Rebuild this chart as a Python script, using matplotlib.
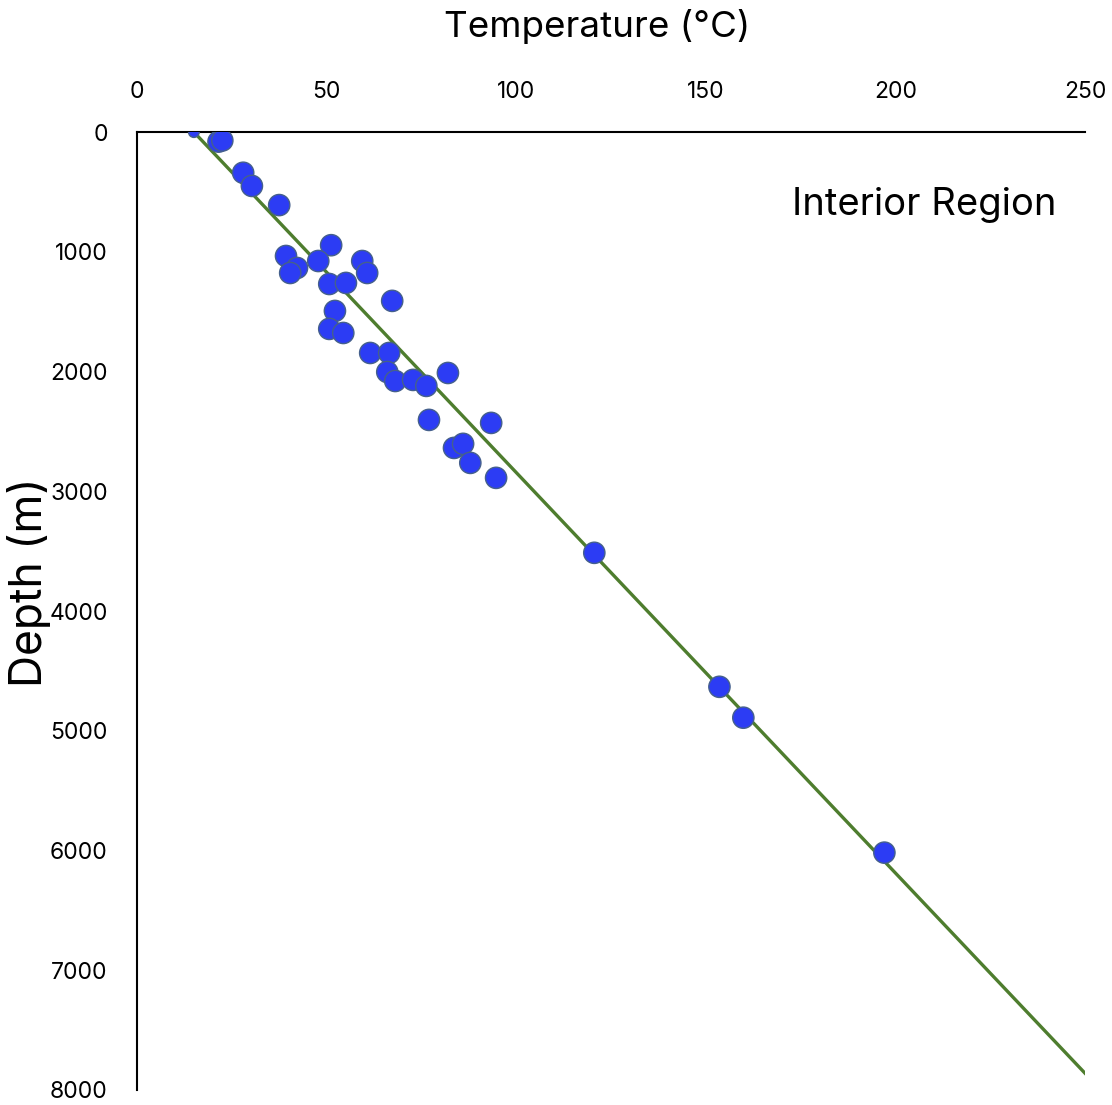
import numpy as np
import matplotlib.pyplot as plt

# well temperatures (deg C) vs depth (m)
temp = [15, 21.5, 22.5, 28, 30.3, 37.5, 51.2, 39.3, 42.2, 40.4, 47.8, 59.4, 60.7,
        50.7, 55.1, 67.3, 52.2, 50.7, 54.4, 61.5, 66.5, 66, 68.1, 72.8, 76.3,
        82, 77, 93.4, 83.6, 86, 87.9, 94.7, 120.6, 153.6, 159.9, 197.1]
depth = [0, 80, 70, 340, 450, 610, 945, 1035, 1135, 1177, 1077, 1077, 1177,
         1269, 1260, 1410, 1494, 1644, 1678, 1845, 1845, 2004, 2079, 2070, 2120,
         2012, 2404, 2429, 2638, 2604, 2763, 2888, 3514, 4633, 4891, 6018]

# linear trend line
trend_temp = [15, 250]
trend_depth = [0, 7860]

xticks = [0, 50, 100, 150, 200, 250]
yticks = [0, 1000, 2000, 3000, 4000, 5000, 6000, 7000, 8000]

plt.rcParams['font.family'] = ['Inter', 'DejaVu Sans']

fig = plt.figure(figsize=(11.12, 11.05), dpi=100)
ax = fig.add_axes([0.1232, 0.0136, 0.8525, 0.8669])

ax.plot(trend_temp, trend_depth, color='#4e7d2e', lw=2.4, zorder=2)

sizes = [60] + [235] * (len(temp) - 1)
ax.scatter(temp, depth, s=sizes, color='#2c3cf4', edgecolor='#45608c',
           linewidth=1.0, zorder=3)

ax.set_xlim(0, 250)
ax.set_ylim(8000, 0)
ax.set_xticks(xticks)
ax.set_yticks(yticks)
ax.xaxis.tick_top()
ax.tick_params(axis='both', length=0, labelsize=16.5, pad=21)

for s in ['right', 'bottom']:
    ax.spines[s].set_visible(False)
for s in ['left', 'top']:
    ax.spines[s].set_linewidth(1.5)

fig.text(597 / 1112, 1 - 27 / 1105, 'Temperature (°C)', fontsize=26.5,
         ha='center', va='center')
fig.text(29 / 1112, 1 - 582 / 1105, 'Depth (m)', fontsize=32, rotation=90,
         ha='center', va='center')
ax.text(0.97, 0.924, 'Interior Region', transform=ax.transAxes, fontsize=27.5,
        ha='right', va='center')

fig.savefig('out.png', dpi=100)
